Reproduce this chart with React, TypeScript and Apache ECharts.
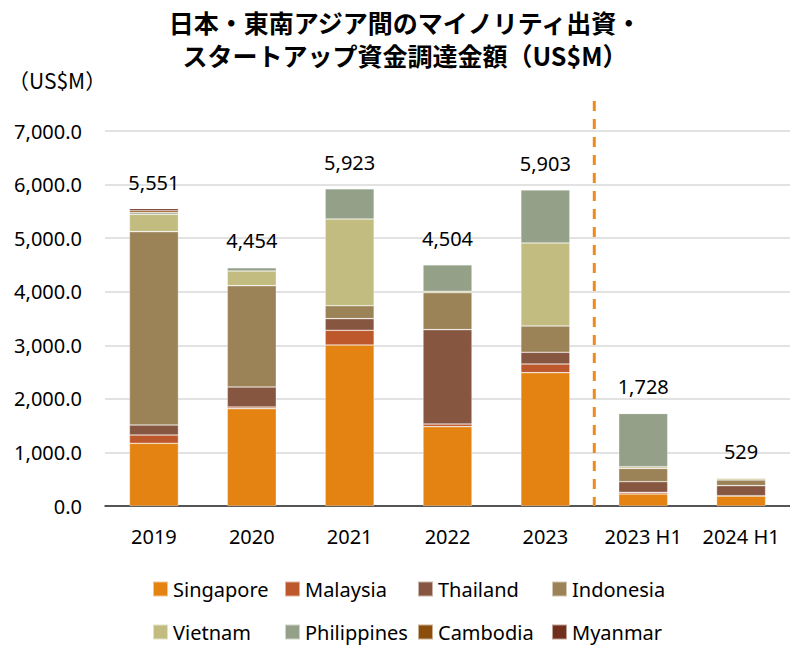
import React, { useEffect, useRef } from "react";
import * as echarts from "echarts";

const categories = ["2019", "2020", "2021", "2022", "2023", "2023 H1", "2024 H1"];
const singapore = [1170, 1817, 3005, 1481, 2489, 224, 187];
const malaysia = [155, 31, 275, 50, 162, 31, 5];
const thailand = [187, 373, 217, 1761, 218, 199, 188];
const indonesia = [3609, 1892, 242, 690, 491, 249, 105];
const vietnam = [324, 274, 1618, 26, 1550, 31, 32];
const philippines = [31, 60, 566, 496, 993, 994, 12];
const cambodia = [35, 2, 0, 0, 0, 0, 0];
const myanmar = [40, 5, 0, 0, 0, 0, 0];
const totals = [5551, 4454, 5923, 4504, 5903, 1728, 529];

const seriesNames = ["Singapore", "Malaysia", "Thailand", "Indonesia", "Vietnam", "Philippines", "Cambodia", "Myanmar"];
const seriesData = [singapore, malaysia, thailand, indonesia, vietnam, philippines, cambodia, myanmar];
const seriesColors = ["#E48312", "#BD582C", "#865640", "#9B8357", "#C2BC80", "#94A088", "#8C4E0C", "#70301C"];

const titleText = "日本・東南アジア間のマイノリティ出資・\nスタートアップ資金調達金額（US$M）";
const unitText = "（US$M）";

const FONT = "'Noto Sans', sans-serif";
const CJK = "'Noto Sans CJK JP', sans-serif";

const legendColumns = [152, 284, 417, 551];
const legendRows = [579, 622];

export default function App() {
  const ref = useRef<HTMLDivElement>(null);
  useEffect(() => {
    document.body.style.margin = "0";
    const chart = echarts.init(ref.current!, null, { renderer: "svg" });
    const legends = seriesNames.map((name, i) => ({
      left: legendColumns[i % 4],
      top: legendRows[Math.floor(i / 4)],
      data: [name],
      itemWidth: 15,
      itemHeight: 15,
      itemGap: 0,
      icon: "rect",
      padding: 0,
      selectedMode: false,
      textStyle: { fontFamily: FONT, fontSize: 20, color: "#000" },
    }));
    const option: any = {
      animation: false,
      grid: { left: 105, top: 131, width: 691, height: 375, containLabel: false },
      legend: legends,
      xAxis: {
        type: "category",
        data: categories,
        axisLine: { lineStyle: { color: "#262626", width: 1.5 } },
        axisTick: { show: false },
        axisLabel: { fontFamily: FONT, fontSize: 20, color: "#000", margin: 20, interval: 0 },
      },
      yAxis: {
        type: "value",
        min: 0,
        max: 7000,
        interval: 1000,
        axisLine: { show: false },
        axisTick: { show: false },
        splitLine: { lineStyle: { color: "#D9D9D9", width: 1.5 } },
        axisLabel: {
          fontFamily: FONT,
          fontSize: 20,
          color: "#000",
          margin: 23,
          formatter: (v: number) => v.toLocaleString("en-US") + ".0",
        },
      },
      series: [
        ...seriesNames.map((name, i) => ({
          name,
          type: "bar",
          stack: "total",
          barWidth: 49,
          data: seriesData[i],
          itemStyle: { color: seriesColors[i], borderColor: "rgba(255,255,255,0.55)", borderWidth: 0.6 },
        })),
        {
          name: "Total",
          type: "scatter",
          data: totals,
          symbolSize: 1,
          itemStyle: { color: "rgba(0,0,0,0)" },
          label: {
            show: true,
            position: "top",
            distance: 16,
            fontFamily: FONT,
            fontSize: 20,
            color: "#000",
            opacity: 1,
            textBorderWidth: 0,
            formatter: (p: any) => Number(p.value).toLocaleString("en-US"),
          },
          z: 10,
        },
      ],
      graphic: [
        {
          type: "text",
          x: 405,
          y: 5,
          style: {
            text: titleText,
            textAlign: "center",
            fontFamily: CJK,
            fontWeight: "bold",
            fontSize: 25,
            lineHeight: 33,
            fill: "#000",
          },
        },
        {
          type: "text",
          x: 8,
          y: 69,
          style: { text: unitText, fontFamily: CJK, fontSize: 21, fill: "#000" },
        },
      ],
    };
    chart.setOption(option);
    const x4 = chart.convertToPixel({ xAxisIndex: 0 }, 4) as number;
    const x5 = chart.convertToPixel({ xAxisIndex: 0 }, 5) as number;
    const yTop = chart.convertToPixel({ yAxisIndex: 0 }, 7000) as number;
    const yBottom = chart.convertToPixel({ yAxisIndex: 0 }, 0) as number;
    const xm = (x4 + x5) / 2;
    chart.setOption({
      graphic: [
        option.graphic[0],
        option.graphic[1],
        {
          type: "line",
          shape: { x1: xm, y1: yTop - 30, x2: xm, y2: yBottom },
          style: { stroke: "#EE8A1E", lineWidth: 3, lineDash: [10, 8] },
          z: 5,
        },
      ],
    });
    return () => chart.dispose();
  }, []);
  return <div ref={ref} style={{ width: 790, height: 646 }} />;
}
